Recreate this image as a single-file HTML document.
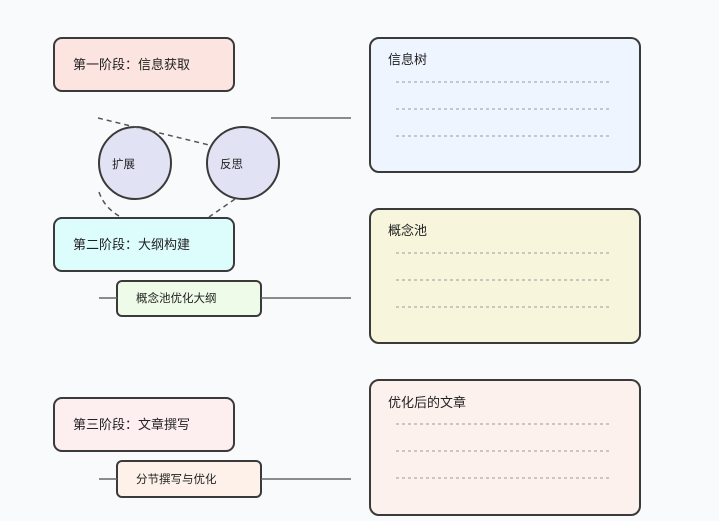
<!DOCTYPE html>
<html><head><meta charset="utf-8"><style>
html,body{margin:0;padding:0;background:#f9fafb;}
svg{display:block;font-family:"Liberation Sans","Noto Sans CJK SC",sans-serif;}
</style></head><body>
<svg width="719" height="521" viewBox="0 0 719 521" xmlns="http://www.w3.org/2000/svg">
<rect width="719" height="521" fill="#f9fafb"/>
<g stroke="#3a3a3a" stroke-width="2">
<rect x="54" y="38" width="180" height="53" rx="8" fill="#fce4e0"/>
<rect x="54" y="218" width="180" height="53" rx="8" fill="#ddfdfd"/>
<rect x="54" y="398" width="180" height="53" rx="8" fill="#fdeef0"/>
<circle cx="135" cy="163" r="36" fill="#e2e2f5"/>
<circle cx="243" cy="163" r="36" fill="#e2e2f5"/>
<rect x="117" y="281" width="144" height="35" rx="5" fill="#eefbe8"/>
<rect x="117" y="461" width="144" height="36" rx="5" fill="#fdf1ea"/>
<rect x="370" y="38" width="270" height="134" rx="9" fill="#eef5ff"/>
<rect x="370" y="209" width="270" height="134" rx="9" fill="#f7f6dd"/>
<rect x="370" y="380" width="270" height="135" rx="9" fill="#fdf1ee"/>
</g>
<g stroke="#666" stroke-width="1.5" fill="none">
<line x1="271" y1="118" x2="351" y2="118"/>
<line x1="99" y1="298" x2="117" y2="298"/>
<line x1="261" y1="298" x2="351" y2="298"/>
<line x1="99" y1="479" x2="117" y2="479"/>
<line x1="261" y1="479" x2="351" y2="479"/>
</g>
<g stroke="#555" stroke-width="1.5" fill="none" stroke-dasharray="5,4">
<path d="M98 118 L209 145"/>
<path d="M99 192 Q104 207 119 216"/>
<path d="M235 199 L209 217"/>
</g>
<g stroke="#999" stroke-width="1" stroke-dasharray="3,3">
<line x1="396" y1="82" x2="611" y2="82"/>
<line x1="396" y1="109" x2="611" y2="109"/>
<line x1="396" y1="136" x2="611" y2="136"/>
<line x1="396" y1="253" x2="611" y2="253"/>
<line x1="396" y1="280" x2="611" y2="280"/>
<line x1="396" y1="307" x2="611" y2="307"/>
<line x1="396" y1="424" x2="611" y2="424"/>
<line x1="396" y1="451" x2="611" y2="451"/>
<line x1="396" y1="478" x2="611" y2="478"/>
</g>
<g fill="#222" font-size="13">
<text x="73" y="69">第一阶段：信息获取</text>
<text x="73" y="249">第二阶段：大纲构建</text>
<text x="73" y="429">第三阶段：文章撰写</text>
<text x="388" y="64">信息树</text>
<text x="388" y="235">概念池</text>
<text x="388" y="407">优化后的文章</text>
</g>
<g fill="#222" font-size="11.5">
<text x="112" y="168">扩展</text>
<text x="220" y="168">反思</text>
<text x="136" y="302">概念池优化大纲</text>
<text x="136" y="483">分节撰写与优化</text>
</g>
</svg>
</body></html>
